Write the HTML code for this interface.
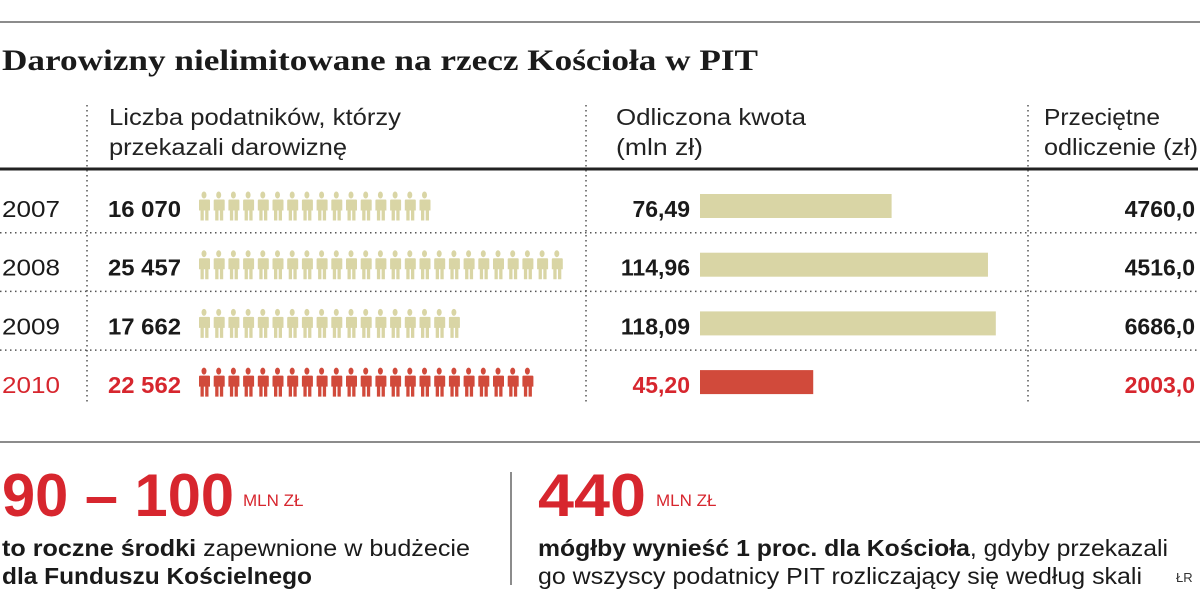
<!DOCTYPE html>
<html><head><meta charset="utf-8"><style>
html,body{margin:0;padding:0;background:#fff;}
svg{display:block;}
.s{font-family:"Liberation Sans","DejaVu Sans",sans-serif;}
</style></head><body>
<svg id="c" width="1200" height="590" xmlns="http://www.w3.org/2000/svg">
<line x1="0" y1="22" x2="1200" y2="22" stroke="#666" stroke-width="1.5"/>
<text x="2" y="70" font-family="Liberation Serif,serif" font-weight="bold" font-size="30" fill="#1a1a1a" textLength="756" lengthAdjust="spacingAndGlyphs">Darowizny nielimitowane na rzecz Kościoła w PIT</text>
<g class="s" font-size="23" fill="#222">
<text x="109" y="125" textLength="292" lengthAdjust="spacingAndGlyphs">Liczba podatników, którzy</text>
<text x="109" y="155" textLength="238" lengthAdjust="spacingAndGlyphs">przekazali darowiznę</text>
<text x="616" y="125" textLength="190" lengthAdjust="spacingAndGlyphs">Odliczona kwota</text>
<text x="616" y="155" textLength="87" lengthAdjust="spacingAndGlyphs">(mln zł)</text>
<text x="1044" y="125" textLength="116" lengthAdjust="spacingAndGlyphs">Przeciętne</text>
<text x="1044" y="155" textLength="154" lengthAdjust="spacingAndGlyphs">odliczenie (zł)</text>
</g>
<g stroke="#555" stroke-width="1.5" stroke-dasharray="1.5 3.5">
<line x1="87" y1="105" x2="87" y2="405"/><line x1="586" y1="105" x2="586" y2="405"/><line x1="1028" y1="105" x2="1028" y2="405"/>
</g>
<line x1="0" y1="169" x2="1198" y2="169" stroke="#222" stroke-width="3"/>
<g id="rows"></g>
<line x1="0" y1="442" x2="1200" y2="442" stroke="#666" stroke-width="1.5"/>
<g class="s">
<text x="2" y="516" font-size="60" font-weight="bold" fill="#d7262e" textLength="232" lengthAdjust="spacingAndGlyphs">90 – 100</text>
<text x="243" y="506" font-size="17" fill="#d7262e">MLN ZŁ</text>
<text x="2" y="556" font-size="23" fill="#1a1a1a" textLength="468" lengthAdjust="spacingAndGlyphs"><tspan font-weight="bold">to roczne środki</tspan> zapewnione w budżecie</text>
<text x="2" y="584" font-size="23" fill="#1a1a1a" font-weight="bold" textLength="310" lengthAdjust="spacingAndGlyphs">dla Funduszu Kościelnego</text>
</g>
<line x1="511" y1="472" x2="511" y2="585" stroke="#666" stroke-width="1.5"/>
<g class="s">
<text x="538" y="516" font-size="60" font-weight="bold" fill="#d7262e" textLength="108" lengthAdjust="spacingAndGlyphs">440</text>
<text x="656" y="506" font-size="17" fill="#d7262e">MLN ZŁ</text>
<text x="538" y="556" font-size="23" fill="#1a1a1a" textLength="630" lengthAdjust="spacingAndGlyphs"><tspan font-weight="bold">mógłby wynieść 1 proc. dla Kościoła</tspan>, gdyby przekazali</text>
<text x="538" y="584" font-size="23" fill="#1a1a1a" textLength="604" lengthAdjust="spacingAndGlyphs">go wszyscy podatnicy PIT rozliczający się według skali</text>
<text x="1176" y="582" font-size="13" fill="#333">ŁR</text>
</g>
</svg>
<script>
const years = ["2007","2008","2009","2010"];
const taxpayers = [16070, 25457, 17662, 22562];
const taxpayerLabels = ["16 070","25 457","17 662","22 562"];
const amounts = [76.49, 114.96, 118.09, 45.20];
const amountLabels = ["76,49","114,96","118,09","45,20"];
const averages = ["4760,0","4516,0","6686,0","2003,0"];

const NS="http://www.w3.org/2000/svg";
const g=document.getElementById('rows');
const rowY=i=>178+i*58.7;
const xAmt=v=>700+v*2.505;
const beige="#d9d5a5", red="#d14a3b";
function mk(t,a){const e=document.createElementNS(NS,t);for(const k in a)e.setAttribute(k,a[k]);g.appendChild(e);return e;}
years.forEach((y,i)=>{
  const top=rowY(i), last=i===3;
  const col=last?"#d7262e":"#1a1a1a", fill=last?red:beige;
  if(i>0){const l=mk('line',{x1:0,y1:top-4,x2:1198,y2:top-4,stroke:'#555','stroke-width':1.5,'stroke-dasharray':'1.5 3.5'});
  
  }
  const base=top+39;
  const t1=mk('text',{x:2,y:base,'font-size':23,fill:col,'font-family':'Liberation Sans,sans-serif',textLength:58,lengthAdjust:'spacingAndGlyphs'});t1.textContent=y;
  
  
  const t2=mk('text',{x:108,y:base,'font-size':23,'font-weight':'bold',fill:col,'font-family':'Liberation Sans,sans-serif',textLength:73,lengthAdjust:'spacingAndGlyphs'});t2.textContent=taxpayerLabels[i];
  
  
  const n=Math.round(taxpayers[i]/1000);
  for(let k=0;k<n;k++){
    const x=198+k*14.7, iy=top+13;
    const p=mk('path',{fill:fill,d:`M${x+3.5},${iy+4} a2.5,3.5 0 1 1 5,0 a2.5,3.5 0 1 1 -5,0 Z M${x+1},${iy+8.5} h10 a1,1 0 0 1 1,1 v10 h-1.5 v-8 v18 h-3.3 v-10 h-1.4 v10 h-3.3 v-18 v8 h-1.5 v-10 a1,1 0 0 1 1,-1 Z`});
    
    
  }
  const t3=mk('text',{x:690,y:base,'font-size':23,'font-weight':'bold',fill:col,'text-anchor':'end','font-family':'Liberation Sans,sans-serif'});t3.textContent=amountLabels[i];
  
  
  const b=mk('rect',{x:xAmt(0),y:top+16,width:xAmt(amounts[i])-xAmt(0),height:24,fill:fill});
  
  
  const t4=mk('text',{x:1195,y:base,'font-size':23,'font-weight':'bold',fill:col,'text-anchor':'end','font-family':'Liberation Sans,sans-serif'});t4.textContent=averages[i];
  
  
});
</script>
</body></html>
